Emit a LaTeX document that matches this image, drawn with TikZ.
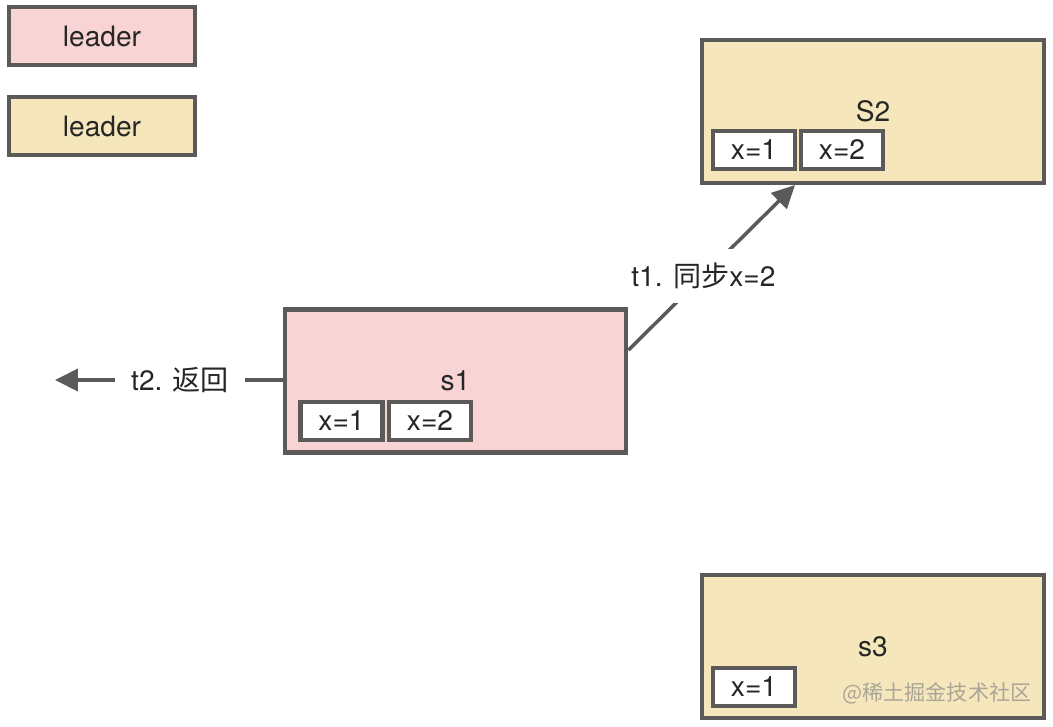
\documentclass[tikz,border=0pt]{standalone}
\usepackage{fontspec}
\setmainfont{TeX Gyre Heros}
\newfontfamily\cjk{Noto Sans CJK SC}
\usetikzlibrary{arrows.meta,positioning}
\definecolor{leadfill}{RGB}{249,212,212}
\definecolor{follfill}{RGB}{245,231,187}
\definecolor{rimgray}{RGB}{92,90,88}
\definecolor{markgray}{RGB}{170,165,150}

\begin{document}
\begin{tikzpicture}[x=0.02cm, y=-0.02cm, >={Triangle[length=13pt, width=12.5pt]},
    every node/.style={font=\fontsize{16}{19}\selectfont, text=black!85},
    box/.style={draw=rimgray, line width=2.3pt, rectangle, inner sep=0pt},
    server/.style={box, minimum width=6.84cm, minimum height=2.86cm},
    legendbox/.style={box, minimum width=3.72cm, minimum height=1.16cm},
    cell/.style={box, fill=white, minimum width=1.64cm, minimum height=0.76cm},
    msg/.style={draw=rimgray, line width=2pt, ->}]
    \useasboundingbox (0,0) rectangle (1053,726);
    % --- legend ---
    \node[legendbox, fill=leadfill] (keyA) at (102,36) {leader};
    \node[legendbox, fill=follfill] (keyB) at (102,126) {leader};
    % --- servers ---
    \node[server, fill=follfill] (S2) at (873,111.5) {S2};
    \node[server, fill=leadfill] (s1) at (455.5,381) {s1};
    \node[server, fill=follfill] (s3) at (873,646.5) {s3};
    % --- log entries ---
    \node[cell] (S2a) at (754,150) {x=1};
    \node[cell] (S2b) at (842,150) {x=2};
    \node[cell] (s1a) at (341.5,421) {x=1};
    \node[cell] (s1b) at (430,421) {x=2};
    \node[cell] (s3a) at (754,687) {x=1};
    % --- messages ---
    \coordinate (client) at (55,380);
    \draw[msg] ([yshift=0.62cm]s1.east) --
      node[pos=0.45, fill=white, inner xsep=9pt, inner ysep=8pt] {t1. {\cjk 同步}x=2} ([xshift=-1.56cm]S2.south);
    \draw[msg] (s1.west |- client) --
      node[pos=0.45, fill=white, inner xsep=9pt] {t2. {\cjk 返回}} (client);
    % --- watermark ---
    \node[text=markgray, font=\cjk\fontsize{12}{14}\selectfont] (mark) at (937,693) {@稀土掘金技术社区};
\end{tikzpicture}
\end{document}
